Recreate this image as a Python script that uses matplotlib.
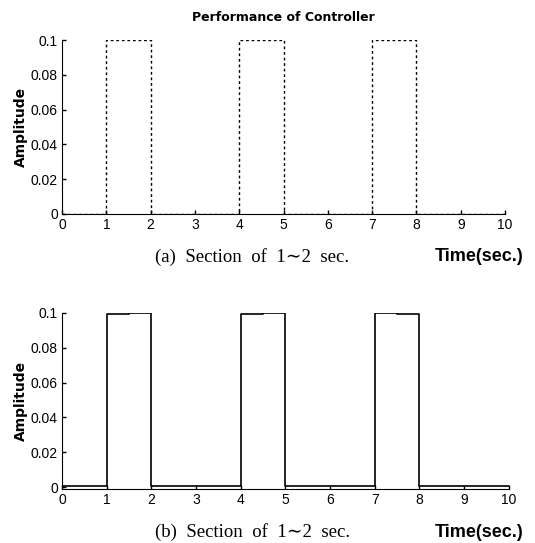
import matplotlib.pyplot as plt

# pulse edges (sec) and levels, step "post"
t_edges = [0, 1, 2, 4, 5, 7, 8, 10]
ref_level = [0, 0.1, 0, 0.1, 0, 0.1, 0, 0]

t_out = [0, 1, 1.5, 2, 4, 4.5, 5, 7, 7.5, 8, 10]
out_level = [0.0008, 0.0993, 0.1, 0.0008, 0.0993, 0.1, 0.0008, 0.1, 0.0995, 0.0008, 0.0008]

x_ticks = list(range(0, 11))
y_ticks = [0, 0.02, 0.04, 0.06, 0.08, 0.1]
y_ticklabels = ["0", "0.02", "0.04", "0.06", "0.08", "0.1"]

plt.rcParams["font.family"] = ["Liberation Sans Narrow", "Liberation Sans", "DejaVu Sans"]

fig = plt.figure(figsize=(5.35, 5.43), dpi=100)
ax1 = fig.add_axes([0.116, 0.606, 0.828, 0.320])
ax2 = fig.add_axes([0.116, 0.099, 0.835, 0.325])


def style(ax, ylo):
    ax.set_xlim(0, 10)
    ax.set_ylim(ylo, 0.1)
    ax.set_xticks(x_ticks)
    ax.set_yticks(y_ticks)
    ax.set_yticklabels(y_ticklabels)
    ax.spines["top"].set_visible(False)
    ax.spines["right"].set_visible(False)
    ax.tick_params(direction="in", length=3, labelsize=10, width=1, pad=3)
    ax.set_ylabel("Amplitude", fontsize=10, fontweight="bold", family="DejaVu Sans", labelpad=2)


ax1.step(t_edges, ref_level, where="post", color="black", linestyle=(0, (2, 2)), linewidth=1)
style(ax1, 0)
ax1.set_title("Performance of Controller", fontsize=9, fontweight="bold", family="DejaVu Sans", pad=14)

ax2.step(t_out, out_level, where="post", color="black", linewidth=1.2)
style(ax2, -0.0012)

serif = ["Liberation Serif", "DejaVu Serif"]
fig.text(0.29, 0.527, "(a)  Section  of  1\u223c2  sec.", fontsize=13.5, family=serif, va="center")
fig.text(0.812, 0.527, "Time(sec.)", fontsize=13, fontweight="bold", va="center")
fig.text(0.29, 0.02, "(b)  Section  of  1\u223c2  sec.", fontsize=13.5, family=serif, va="center")
fig.text(0.812, 0.02, "Time(sec.)", fontsize=13, fontweight="bold", va="center")

fig.savefig("out.png", dpi=100)
